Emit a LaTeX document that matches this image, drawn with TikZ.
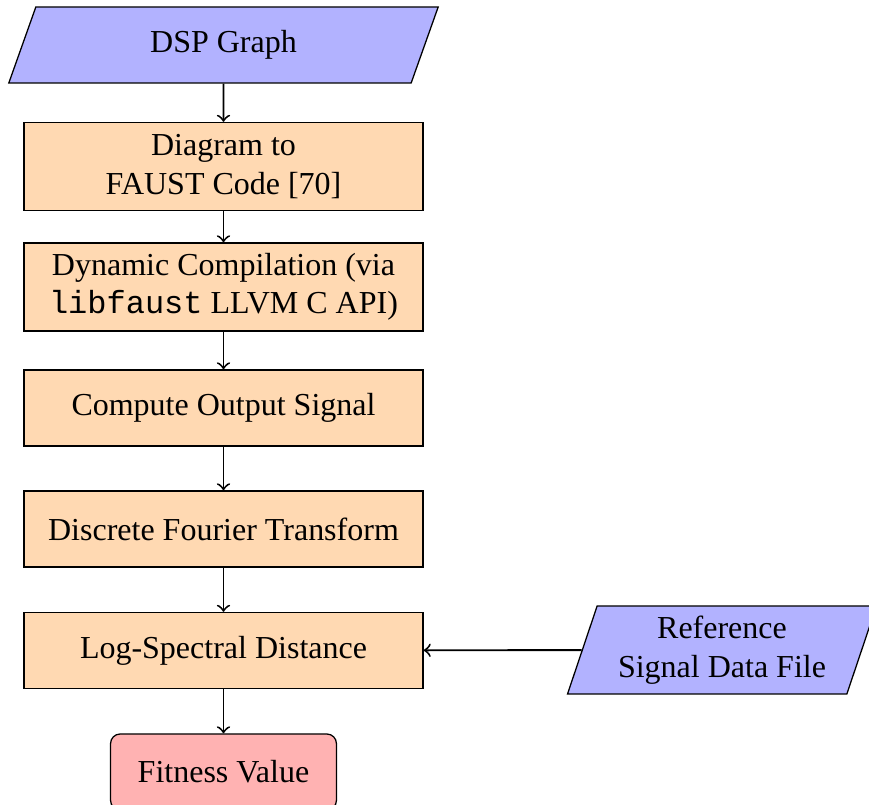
\documentclass[tikz,border=0pt]{standalone}
\usepackage{fontspec}
\setmainfont{Liberation Serif}
\setmonofont{Liberation Mono}
\usetikzlibrary{shapes.geometric}
\begin{document}
\begin{tikzpicture}[x=0.3125pt,y=-0.3125pt,
  font=\fontsize{10}{12}\selectfont,
  >=to, line width=0.4pt,
  procbox/.style={draw, fill=orange!30, align=center, inner sep=0pt,
    minimum width=124.7pt, minimum height=23.75pt},
  iobox/.style={draw, fill=blue!30, align=center, inner sep=0pt,
    trapezium, trapezium left angle=70, trapezium right angle=110,
    trapezium stretches=true},
  endbox/.style={draw, fill=red!30, rounded corners=3pt, align=center,
    inner sep=0pt, minimum width=70.6pt, minimum height=23.75pt},
  flow/.style={->, semithick}]
\useasboundingbox (0,0) rectangle (869,805);

\node[iobox, minimum width=134.7pt, minimum height=23.75pt] (dsp) at (223.5,45) {DSP Graph};
\node[procbox, minimum height=27.5pt] (faust) at (223.5,166.5) {Diagram to\\FAUST Code [70]};
\node[procbox, minimum height=27.5pt] (comp) at (223.5,287) {Dynamic Compilation (via\\\texttt{libfaust} LLVM C API)};
\node[procbox] (out) at (223.5,408) {Compute Output Signal};
\node[procbox] (dft) at (223.5,529) {Discrete Fourier Transform};
\node[procbox] (lsd) at (223.5,650.5) {Log-Spectral Distance};
\node[endbox] (fit) at (223.5,772) {Fitness Value};
\node[iobox, minimum width=96.9pt, minimum height=27.5pt] (ref) at (722,650) {Reference\\Signal Data File};

\draw[flow] (dsp) -- (faust);
\draw[flow] (faust) -- (comp);
\draw[flow] (comp) -- (out);
\draw[flow] (out) -- (dft);
\draw[flow] (dft) -- (lsd);
\draw[flow] (lsd) -- (fit);
\draw[flow] (ref) -- (lsd);
\end{tikzpicture}
\end{document}
